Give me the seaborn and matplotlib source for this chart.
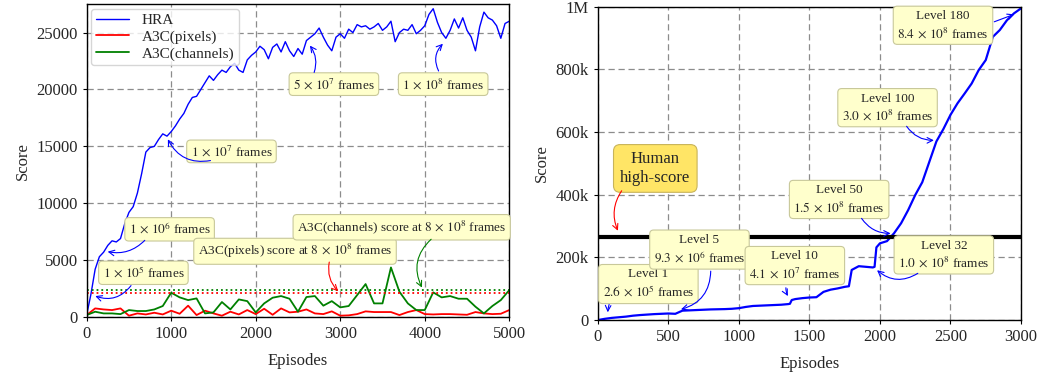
import matplotlib
matplotlib.use("Agg")
import matplotlib.pyplot as plt
import numpy as np
import pandas as pd
import seaborn as sns

# ---- left panel data (score vs episodes) ----
hra_episodes = list(range(0, 5001, 50))
hra_scores = [
    200, 2000, 4200, 5300, 5700, 6300, 6700, 6600, 6900, 8200,
    9200, 9700, 10900, 12600, 14500, 14900, 15000, 15600, 16100, 15900,
    16300, 16800, 17400, 17900, 18700, 19300, 19400, 20000, 20600, 21200,
    20800, 21300, 21700, 21500, 22000, 22300, 21700, 21500, 22600, 23000,
    23300, 23800, 23500, 22700, 23700, 24000, 23300, 24200, 23400, 22900,
    23600, 23100, 24300, 24600, 24900, 25400, 24600, 23900, 23400, 24600,
    24900, 24500, 25300, 25000, 25700, 25500, 25600, 25300, 25500, 25800,
    25200, 25500, 26000, 24200, 25000, 25300, 25200, 25700, 24900, 25200,
    25600, 26600, 27100, 25900, 25000, 24500, 25200, 26200, 25400, 26300,
    25200, 24600, 23400, 25500, 26800, 26300, 26100, 25600, 24500, 25800,
    26000,
]

a3c_episodes = list(range(0, 5001, 100))
a3c_pixels = [
    176, 760, 670, 615, 760, 120, 320, 230, 380, 230,
    560, 290, 1000, 176, 560, 320, 120, 470, 230, 615,
    260, 730, 200, 760, 410, 470, 670, 320, 260, 500,
    120, 150, 260, 500, 440, 440, 440, 176, 440, 615,
    260, 230, 260, 260, 230, 200, 440, 320, 260, 290,
    615,
]
a3c_channels = [
    176, 470, 320, 320, 260, 615, 530, 530, 670, 970,
    2140, 1730, 1490, 1640, 320, 410, 1320, 670, 1550, 1400,
    410, 1200, 1700, 1845, 1610, 470, 1760, 1845, 1000, 1400,
    850, 970, 1930, 2900, 1200, 1200, 4360, 2230, 1200, 615,
    615, 2170, 1730, 1845, 1610, 1610, 910, 320, 970, 1490,
    2370,
]
pixels_final = 2100
channels_final = 2400

# ---- right panel data (HRA on the full game) ----
full_episodes = [
    0, 50, 100, 150, 200, 250, 300, 350, 400, 450,
    500, 550, 600, 650, 700, 750, 800, 850, 900, 950,
    1000, 1050, 1100, 1150, 1200, 1250, 1300, 1350, 1362, 1375,
    1400, 1450, 1500, 1550, 1600, 1650, 1700, 1750, 1780, 1800,
    1850, 1900, 1950, 1962, 1975, 2000, 2050, 2100, 2150, 2200,
    2250, 2300, 2350, 2400, 2450, 2500, 2550, 2600, 2650, 2700,
    2750, 2800, 2850, 2900, 2950, 3000,
]
full_scores = [
    0, 4000, 7000, 9000, 11000, 14000, 16000, 17500, 19000, 20000,
    21000, 20000, 30000, 31000, 32000, 33000, 34000, 34500, 35000, 36000,
    38000, 42000, 45000, 46000, 47000, 48000, 49000, 51000, 52000, 64000,
    67000, 70000, 72000, 73000, 90000, 97000, 101000, 106000, 108000, 160000,
    172000, 170000, 168000, 170000, 232000, 245000, 252000, 277000, 309000, 351000,
    399000, 440000, 505000, 570000, 610000, 655000, 692000, 723000, 755000, 798000,
    830000, 904000, 926000, 957000, 979000, 995000,
]
human_high_score = 266360

# annotation texts: (text, box centre, arrow start, arrow tip, curvature, colour)
left_notes = [
    ("$1\\,\\times\\,10^{5}$ frames", (671, 3890), (544, 2960), (71, 1930), -0.4, "blue"),
    ("$1\\,\\times\\,10^{6}$ frames", (981, 7710), (710, 6920), (216, 5800), -0.3, "blue"),
    ("$1\\,\\times\\,10^{7}$ frames", (1713, 14560), (1497, 13800), (946, 15840), -0.4, "blue"),
    ("$5\\,\\times\\,10^{7}$ frames", (2925, 20470), (2680, 21270), (2621, 24050), 0.3, "blue"),
    ("$1\\,\\times\\,10^{8}$ frames", (4218, 20470), (4179, 21410), (4238, 24190), -0.4, "blue"),
    ("A3C(pixels) score at $8\\,\\times\\,10^{8}$ frames", (2465, 5780), (2877, 5070), (3000, 2100), 0.3, "red"),
    ("A3C(channels) score at $8\\,\\times\\,10^{8}$ frames", (3727, 7890), (4100, 7000), (3982, 2370), 0.4, "green"),
]
right_notes = [
    ("Level 1\n$2.6\\,\\times\\,10^{5}$ frames", (359, 115000), (87, 58000), (71, 16000), 0.1),
    ("Level 5\n$9.3\\,\\times\\,10^{6}$ frames", (721, 225000), (801, 165000), (571, 32000), -0.4),
    ("Level 10\n$4.1\\,\\times\\,10^{7}$ frames", (1397, 174000), (1335, 112000), (1358, 69000), 0.2),
    ("Level 32\n$1.0\\,\\times\\,10^{8}$ frames", (2453, 208000), (2285, 154000), (1965, 165000), -0.4),
    ("Level 50\n$1.5\\,\\times\\,10^{8}$ frames", (1711, 385000), (1859, 332000), (2095, 277000), 0.3),
    ("Level 100\n$3.0\\,\\times\\,10^{8}$ frames", (2054, 678000), (2178, 626000), (2402, 574000), 0.3),
    ("Level 180\n$8.4\\,\\times\\,10^{8}$ frames", (2447, 941000), (2792, 949000), (2969, 979000), 0.0),
]

sns.set_style("whitegrid", {"grid.linestyle": "--", "grid.color": "#8c8c8c",
                            "axes.edgecolor": "black"})
plt.rcParams["font.family"] = ["Liberation Serif", "DejaVu Serif"]
plt.rcParams["mathtext.fontset"] = "stix"

fig = plt.figure(figsize=(10.37, 3.77), dpi=100)
ax1 = fig.add_axes([0.0836, 0.159, 0.4075, 0.830])
ax2 = fig.add_axes([0.5764, 0.151, 0.4082, 0.831])

box_style = dict(boxstyle="round,pad=0.3", fc="#ffffcc", ec="#c8c89a", lw=0.8)

# ---- left panel ----
hra_df = pd.DataFrame({"Episodes": hra_episodes, "Score": hra_scores})
a3c_df = pd.DataFrame({"Episodes": a3c_episodes, "pixels": a3c_pixels, "channels": a3c_channels})

sns.lineplot(data=hra_df, x="Episodes", y="Score", color="blue", lw=1, label="HRA", ax=ax1)
sns.lineplot(data=a3c_df, x="Episodes", y="pixels", color="red", lw=1.3, label="A3C(pixels)", ax=ax1)
sns.lineplot(data=a3c_df, x="Episodes", y="channels", color="green", lw=1.3, label="A3C(channels)", ax=ax1)
ax1.axhline(channels_final, color="green", ls=":", lw=1.3)
ax1.axhline(pixels_final, color="red", ls=":", lw=1.3)

for txt, box_xy, start, tip, rad, col in left_notes:
    ax1.text(box_xy[0], box_xy[1], txt, ha="center", va="center", fontsize=9.5, bbox=box_style)
    ax1.annotate("", xy=tip, xytext=start,
                 arrowprops=dict(arrowstyle="->", color=col, lw=0.8,
                                 connectionstyle=f"arc3,rad={rad}"))

ax1.set_xlim(0, 5000)
ax1.set_ylim(0, 27500)
ax1.set_xticks(range(0, 5001, 1000))
ax1.set_yticks(range(0, 25001, 5000))
ax1.set_xlabel("Episodes", fontsize=12, labelpad=8)
ax1.set_ylabel("Score", fontsize=12)
ax1.legend(loc="upper left", fontsize=11, frameon=True, edgecolor="#cccccc",
           borderaxespad=0.3, handlelength=2.2, labelspacing=0.2, borderpad=0.3)

# ---- right panel ----
full_df = pd.DataFrame({"Episodes": full_episodes, "Score": full_scores})
sns.lineplot(data=full_df, x="Episodes", y="Score", color="blue", lw=1.6, ax=ax2)
ax2.axhline(human_high_score, color="black", lw=3)

ax2.text(408, 484000, "Human\nhigh-score", ha="center", va="center", fontsize=12,
         bbox=dict(boxstyle="round,pad=0.4", fc="#ffe566", ec="#c8b45a", lw=0.8))
ax2.annotate("", xy=(151, 277000), xytext=(181, 420000),
             arrowprops=dict(arrowstyle="->", color="red", lw=0.8,
                             connectionstyle="arc3,rad=0.3"))

for txt, box_xy, start, tip, rad in right_notes:
    ax2.text(box_xy[0], box_xy[1], txt, ha="center", va="center", fontsize=9.5,
             linespacing=1.3, bbox=box_style)
    ax2.annotate("", xy=tip, xytext=start,
                 arrowprops=dict(arrowstyle="->", color="blue", lw=0.8,
                                 connectionstyle=f"arc3,rad={rad}"))

ax2.set_xlim(0, 3000)
ax2.set_ylim(0, 1000000)
ax2.set_xticks(range(0, 3001, 500))
ax2.set_yticks([0, 200000, 400000, 600000, 800000, 1000000])
ax2.set_yticklabels(["0", "200k", "400k", "600k", "800k", "1M"])
ax2.set_xlabel("Episodes", fontsize=12, labelpad=8)
ax2.set_ylabel("Score", fontsize=12)

for ax in (ax1, ax2):
    ax.tick_params(labelsize=12, bottom=True, left=True, length=3, width=0.8,
                   color="black", direction="out")
    for sp in ax.spines.values():
        sp.set_color("black")
        sp.set_linewidth(1.0)
    ax.grid(True, ls=(0, (5, 3)), color="#8c8c8c", lw=0.9)

fig.savefig("out.png", dpi=100)
